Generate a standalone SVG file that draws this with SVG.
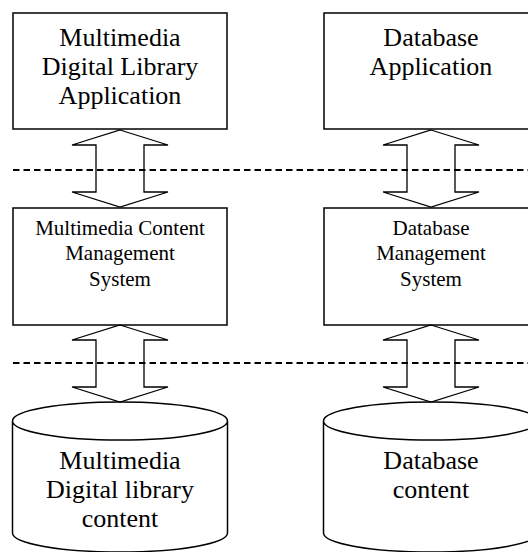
<svg xmlns="http://www.w3.org/2000/svg" width="528" height="552" viewBox="0 0 528 552">
<defs>
<style>
.box{fill:#fff;stroke:#000;stroke-width:1.5}
.arr{fill:none;stroke:#000;stroke-width:1.3;stroke-linejoin:miter}
.dash{stroke:#000;stroke-width:2.2;stroke-dasharray:6.5 4}
.big{font-family:"Liberation Serif","Times New Roman",serif;font-size:26px;text-anchor:middle;fill:#000}
.mid{font-family:"Liberation Serif","Times New Roman",serif;font-size:21px;text-anchor:middle;fill:#000}
</style>
<path id="cyl" d="M-107.5,0 A107.5,19 0 0 1 107.5,0 L107.5,112 A107.5,19 0 0 1 -107.5,112 Z M-107.5,0 A107.5,19 0 0 0 107.5,0"/>
<polygon id="darr" points="0,0 48,15 24,15 24,62 48,62 0,77 -48,62 -24,62 -24,15 -48,15"/>
</defs>
<rect width="528" height="552" fill="#fff"/>

<g id="mdl-app">
<rect class="box" x="13" y="13" width="214" height="116"/>
<text class="big" x="120" y="46">Multimedia</text>
<text class="big" x="120" y="75">Digital Library</text>
<text class="big" x="120" y="104">Application</text>
</g>
<g id="db-app">
<rect class="box" x="324" y="13" width="214" height="116"/>
<text class="big" x="431" y="46">Database</text>
<text class="big" x="431" y="75">Application</text>
</g>
<g id="mcms">
<rect class="box" x="13" y="208" width="214" height="117"/>
<text class="mid" x="120" y="235">Multimedia Content</text>
<text class="mid" x="120" y="260">Management</text>
<text class="mid" x="120" y="286">System</text>
</g>
<g id="dbms">
<rect class="box" x="324" y="208" width="214" height="117"/>
<text class="mid" x="431" y="235">Database</text>
<text class="mid" x="431" y="260">Management</text>
<text class="mid" x="431" y="286">System</text>
</g>
<g id="mdl-content">
<use href="#cyl" transform="translate(120,421)" fill="#fff" stroke="#000" stroke-width="1.5"/>
<text class="big" x="120" y="469">Multimedia</text>
<text class="big" x="120" y="498">Digital library</text>
<text class="big" x="120" y="527">content</text>
</g>
<g id="db-content">
<use href="#cyl" transform="translate(431,421)" fill="#fff" stroke="#000" stroke-width="1.5"/>
<text class="big" x="431" y="469">Database</text>
<text class="big" x="431" y="498">content</text>
</g>

<g id="connectors">
<use href="#darr" class="arr" x="120" y="130"/>
<use href="#darr" class="arr" x="431" y="130"/>
<use href="#darr" class="arr" x="120" y="325"/>
<use href="#darr" class="arr" x="431" y="325"/>
<line class="dash" x1="13" y1="170" x2="528" y2="170"/>
<line class="dash" x1="13" y1="363" x2="528" y2="363"/>
</g>
</svg>
